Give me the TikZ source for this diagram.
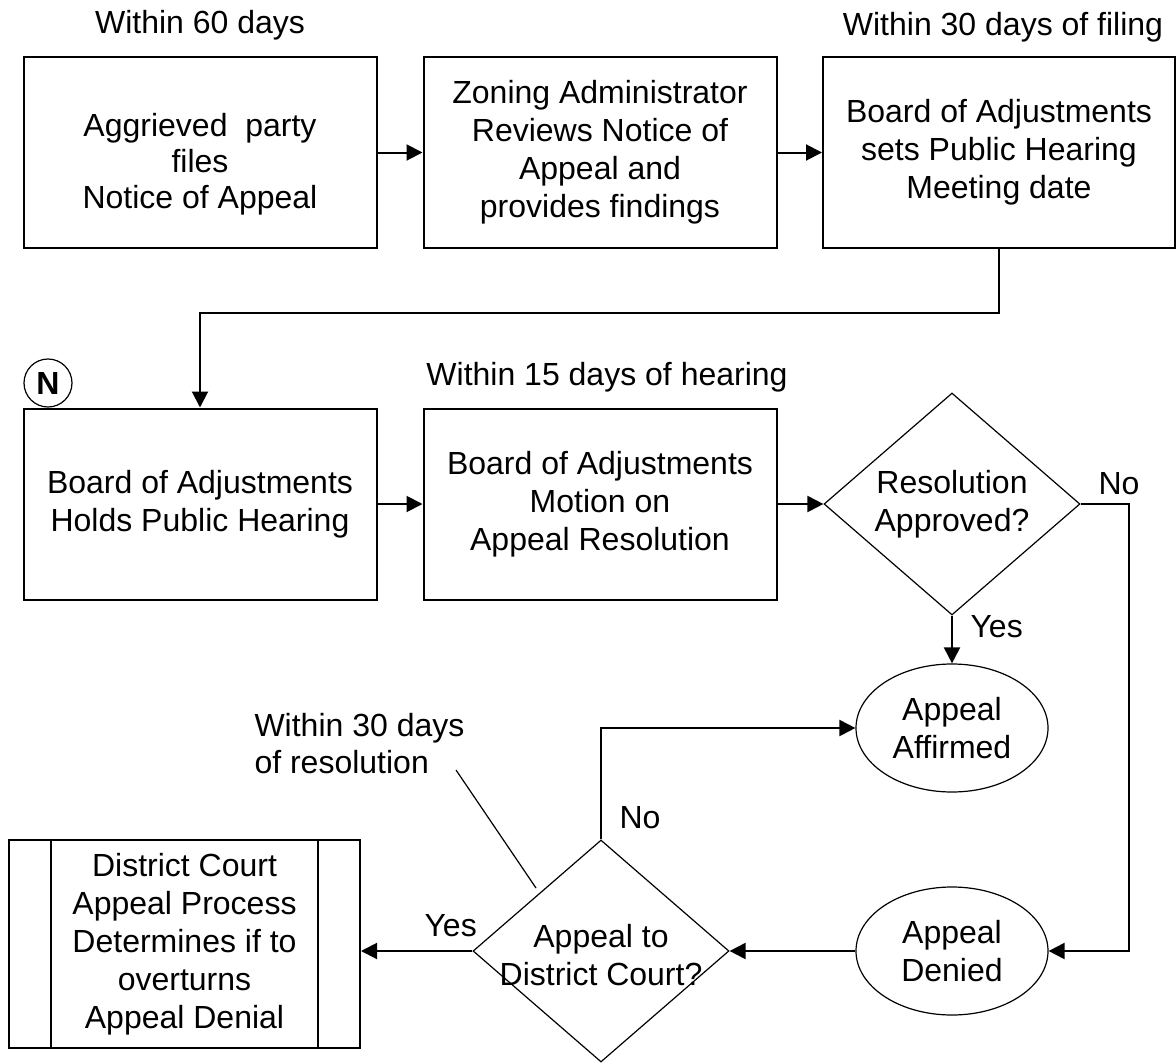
\documentclass[tikz,border=0pt]{standalone}
\usepackage{fontspec}
\setmainfont{Liberation Sans}
\usetikzlibrary{shapes.geometric,arrows.meta}
\tikzset{stepbox/.style={draw,line width=2pt,minimum width=353pt,minimum height=191pt,inner sep=0pt,align=center},
  decision/.style={draw,diamond,line width=1.2pt,minimum width=256pt,minimum height=222pt,inner sep=0pt},
  terminal/.style={draw,ellipse,line width=1.2pt,minimum width=192pt,minimum height=128pt,inner sep=0pt,align=center},
  conn/.style={line width=2pt,-{Triangle[length=16pt,width=16pt]}},
  timing/.style={anchor=base}}

\begin{document}
\begin{tikzpicture}[x=1pt,y=-1pt,font=\fontsize{32}{38}\selectfont]
  \useasboundingbox (0,0) rectangle (1176,1063);
  % first row
  \node[timing] (lab60) at (200,33) {Within 60 days};
  \node[stepbox] (files) at (200,152.5) {};
  \node[align=center,font=\fontsize{32}{36}\selectfont] (filestxt) at (200,164) {Aggrieved\ \ party\\files\\Notice of Appeal};
  \node[stepbox] (review) at (600,152.5) {Zoning Administrator\\Reviews Notice of\\Appeal and\\provides findings};
  \node[timing] (lab30) at (1003,35) {Within 30 days of filing};
  \node[stepbox,minimum width=352pt] (setdate) at (999,152.5) {Board of Adjustments\\sets Public Hearing\\Meeting date};
  \draw[conn] (files) -- (review);
  \draw[conn] (review) -- (setdate);

  % second row
  \node[stepbox] (hearing) at (200,504) {Board of Adjustments\\Holds Public Hearing};
  \node[draw,circle,line width=1.2pt,minimum size=48pt,inner sep=0pt,font=\fontsize{32}{32}\selectfont\bfseries] (nmark) at (48,383) {N};
  \node[timing] (lab15) at (607,385) {Within 15 days of hearing};
  \node[stepbox] (motion) at (600,504) {Board of Adjustments\\Motion on\\Appeal Resolution};
  \node[decision] (approved) at (952,504) {};
  \node[align=center] (approvedtxt) at (approved) {Resolution\\Approved?};
  \draw[conn] (setdate.south) -- ++(0,64) -| (hearing.north);
  \draw[conn] (hearing) -- (motion);
  \draw[conn] (motion) -- (approved);

  % outcomes
  \node[terminal] (affirmed) at (952,728) {Appeal\\Affirmed};
  \node[terminal] (denied) at (952,951) {Appeal\\Denied};
  \draw[conn] (approved.south) -- (affirmed.north);
  \node[anchor=base west] (yes1) at (967,637) {Yes};
  \draw[conn] (approved.east) -- ++(48,0) |- (denied.east);
  \node[anchor=base west] (no1) at (1095,494) {No};

  % district court
  \node[decision] (court) at (601,951) {};
  \node[align=center] (courttxt) at (601,955) {Appeal to\\District Court?};
  \node[draw,line width=2pt,minimum width=351pt,minimum height=208pt,inner sep=0pt,align=center] (process) at (184.5,944)
    {District Court\\Appeal Process\\Determines if to\\overturns\\Appeal Denial};
  \draw[line width=2pt] ([xshift=43pt]process.north west) -- ([xshift=43pt]process.south west);
  \draw[line width=2pt] ([xshift=-43pt]process.north east) -- ([xshift=-43pt]process.south east);
  \draw[conn] (denied.west) -- (court.east);
  \draw[conn] (court.west) -- (court.west -| process.east);
  \node[anchor=base west] (yes2) at (421,936) {Yes};
  \draw[conn] (court.north) |- (affirmed.west);
  \node[anchor=base west] (no2) at (616,828) {No};

  % note
  \node[anchor=base west,align=left,font=\fontsize{32}{37}\selectfont] (note) at (251,773) {Within 30 days\\of resolution};
  \coordinate (notetip) at (536,888);
  \draw[line width=1.2pt] (456,770) -- (notetip);
\end{tikzpicture}
\end{document}
